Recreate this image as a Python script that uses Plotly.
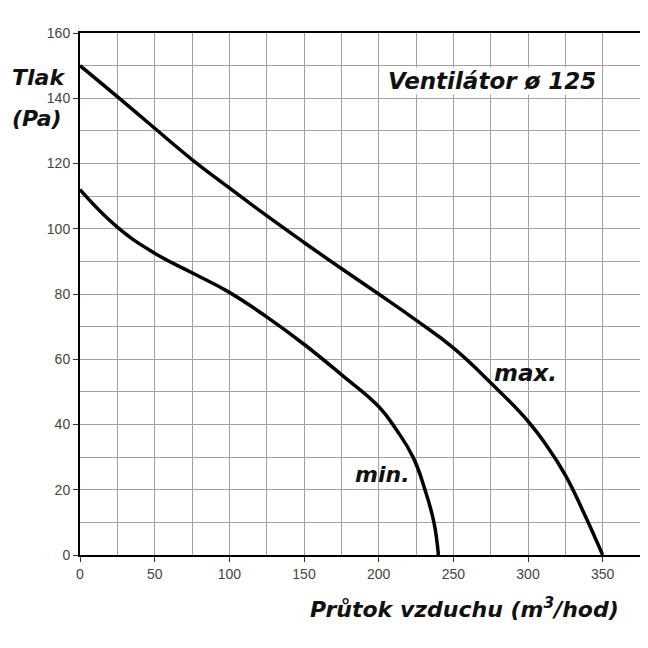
import plotly.graph_objects as go

# fan curve, Ventilator 125
flow_max = [0, 25, 50, 75, 100, 125, 150, 175, 200, 225, 250, 275, 300, 312.5, 325, 337.5, 350]
press_max = [150, 140.5, 130.8, 121.2, 112.5, 104, 95.8, 87.8, 80, 72, 63.5, 52.8, 41, 33.5, 24.5, 12.8, 0]

flow_min = [0, 25, 50, 75, 100, 125, 150, 175, 200, 212, 223, 231, 237, 240]
press_min = [112, 100.5, 92.5, 86.5, 80.5, 73, 64.6, 55.3, 45.5, 38.3, 30, 20, 10, 0]

x_ticks = [0, 50, 100, 150, 200, 250, 300, 350]
y_ticks = [0, 20, 40, 60, 80, 100, 120, 140, 160]

fig = go.Figure()

fig.add_trace(go.Scatter(x = flow_max, y = press_max, mode = 'lines',
                         line = dict(color = 'black', width = 3.5, shape = 'spline', smoothing = 1.3)))
fig.add_trace(go.Scatter(x = flow_min, y = press_min, mode = 'lines',
                         line = dict(color = 'black', width = 3.5, shape = 'spline', smoothing = 1.3)))

bold = dict(family = 'DejaVu Sans', color = '#111', weight = 'bold', style = 'italic')


def label(text, x, y, size, bg = None):
    fig.add_annotation(text = text, xref = 'paper', yref = 'paper', x = x, y = y,
                       xanchor = 'center', yanchor = 'middle', showarrow = False,
                       bgcolor = bg, borderpad = 0, font = dict(bold, size = size))


# the page body has an 8px margin, so the figure is 640 px and margins are shifted by 8
label('Tlak', -0.075, 0.914, 22)
label('(Pa)', -0.076, 0.837, 22)
label('Průtok vzduchu (m<sup>3</sup>/hod)', 0.687, -0.1015, 22)
label('Ventilátor ø 125', 0.736, 0.908, 23, 'white')
label('max.', 0.795, 0.349, 23)
label('min.', 0.539, 0.155, 22)

axis_common = dict(showline = True, linecolor = 'black', linewidth = 2, mirror = True,
                   showgrid = True, gridcolor = '#a0a0a0', gridwidth = 1.3,
                   ticks = 'outside', ticklen = 5, tickcolor = '#333', tickwidth = 1,
                   tickfont = dict(family = 'Liberation Sans', size = 14, color = '#444'),
                   zeroline = False, fixedrange = True)

fig.update_xaxes(range = [0, 375], tickvals = x_ticks,
                 minor = dict(dtick = 25, tick0 = 0, showgrid = True, gridcolor = '#a0a0a0', gridwidth = 1.3),
                 **axis_common)
fig.update_yaxes(range = [0, 160], tickvals = y_ticks,
                 minor = dict(dtick = 10, tick0 = 0, showgrid = True, gridcolor = '#a0a0a0', gridwidth = 1.3),
                 **axis_common)

fig.update_layout(width = 640, height = 640, showlegend = False,
                  margin = dict(l = 72, r = 8, t = 25, b = 93, autoexpand = False),
                  plot_bgcolor = 'white', paper_bgcolor = 'white')

fig.write_html("out.html")
